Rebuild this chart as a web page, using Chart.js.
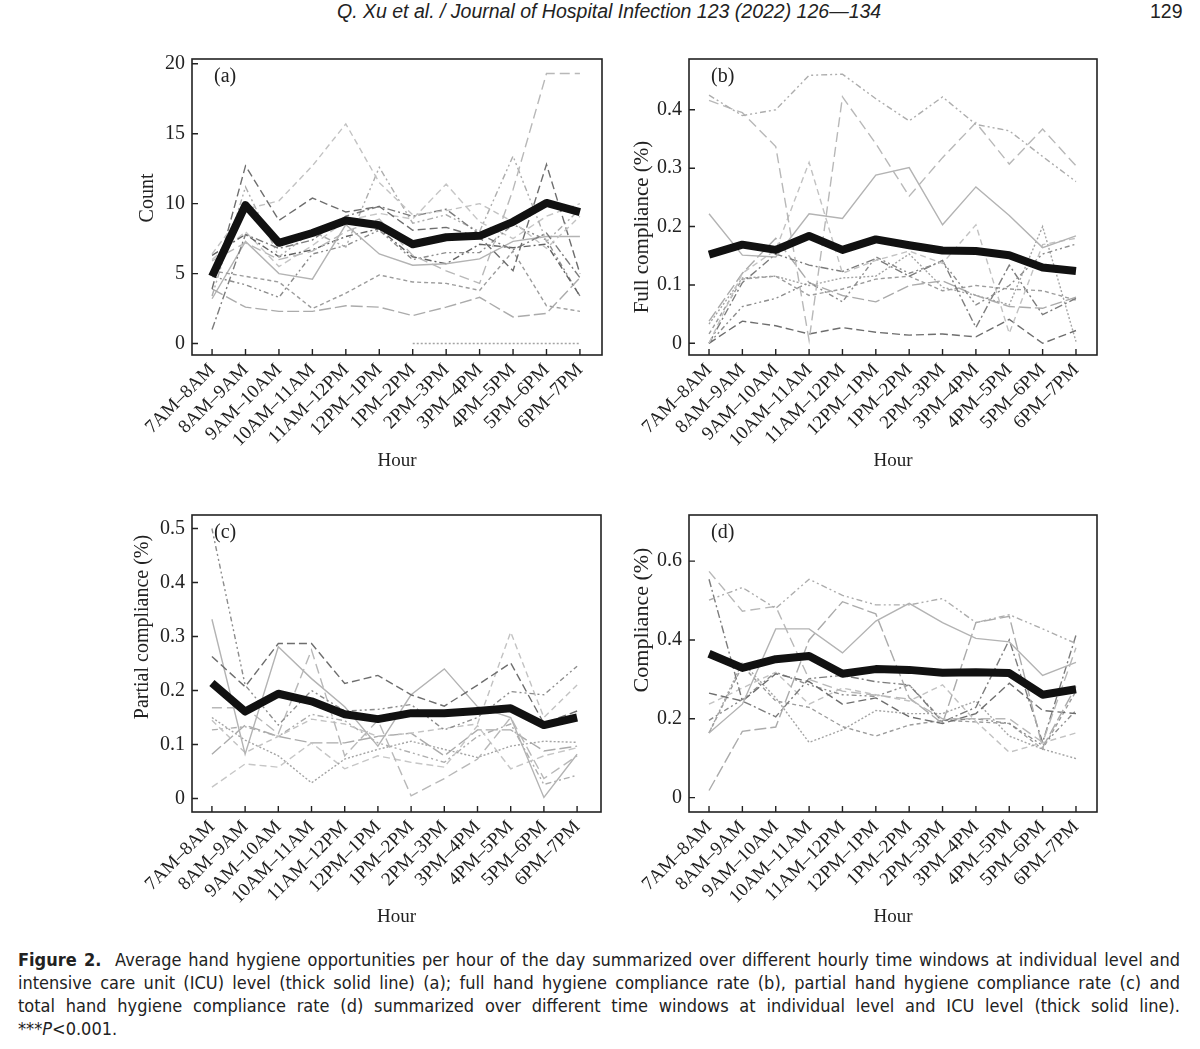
<!DOCTYPE html>
<html>
<head>
<meta charset="utf-8">
<script src="https://cdn.jsdelivr.net/npm/chart.js@4.4.1/dist/chart.umd.min.js"></script>
<style>
  body { margin: 0; background: #fff; width: 1200px; height: 1049px; position: relative; overflow: hidden; }
  canvas { position: absolute; }
  .hdr { position: absolute; top: 0px; font: italic 19.5px "Liberation Sans", sans-serif; color: #222; white-space: nowrap; }
  .cap { position: absolute; left: 18px; width: 1162px; font: 18px "Liberation Sans Narrow", "DejaVu Sans", sans-serif; font-stretch: condensed; color: #222; }
  .cap div { height: 23px; line-height: 23px; white-space: nowrap; }
  .cap .j { text-align: justify; text-align-last: justify; white-space: normal; }
</style>
</head>
<body>
<div class="hdr" style="left:337px;">Q. Xu et al. / Journal of Hospital Infection 123 (2022) 126—134</div>
<div class="hdr" style="left:1150px; font-style:normal;">129</div>

<canvas id="panelA" width="490" height="436" style="left:122px; top:40px;"></canvas>
<canvas id="panelB" width="488" height="436" style="left:619px; top:40px;"></canvas>
<canvas id="panelC" width="489" height="436" style="left:122px; top:496px;"></canvas>
<canvas id="panelD" width="488" height="436" style="left:619px; top:496px;"></canvas>

<div class="cap" style="top:948px;">
  <div class="j"><b>Figure 2.</b>&nbsp; Average hand hygiene opportunities per hour of the day summarized over different hourly time windows at individual level and</div>
  <div class="j">intensive care unit (ICU) level (thick solid line) (a); full hand hygiene compliance rate (b), partial hand hygiene compliance rate (c) and</div>
  <div class="j">total hand hygiene compliance rate (d) summarized over different time windows at individual level and ICU level (thick solid line).</div>
  <div>***<i>P</i>&lt;0.001.</div>
</div>

<script>
// hourly windows
const hours = ['7AM\u20138AM', '8AM\u20139AM', '9AM\u201310AM', '10AM\u201311AM', '11AM\u201312PM', '12PM\u20131PM',
  '1PM\u20132PM', '2PM\u20133PM', '3PM\u20134PM', '4PM\u20135PM', '5PM\u20136PM', '6PM\u20137PM'];

// (a) opportunities count
const countTicks = [0, 5, 10, 15, 20];
const countIcu = [4.8, 9.9, 7.2, 7.9, 8.8, 8.45, 7.1, 7.6, 7.7, 8.7, 10.05, 9.4];
const countIndividual = [
  [5.9, 7.2, 6.0, 6.6, 8.0, 8.9, 6.3, 5.2, 4.3, 11.0, 19.3, 19.3],
  [6.4, 9.6, 10.2, 12.7, 15.7, 11.5, 9.2, 9.5, 10.0, 8.7, 6.8, 9.1],
  [3.9, 12.7, 8.8, 10.4, 9.4, 9.8, 8.1, 8.3, 7.6, 5.2, 12.8, 5.0],
  [1.0, 7.8, 6.8, 7.4, 9.1, 9.8, 9.1, 9.6, 7.8, 6.7, 7.9, 4.7],
  [3.9, 2.6, 2.3, 2.3, 2.7, 2.6, 2.0, 2.6, 3.3, 1.9, 2.15, 4.7],
  [5.2, 4.8, 4.4, 2.5, 3.6, 4.9, 4.4, 4.3, 3.8, 6.6, 2.7, 2.3],
  [null, null, null, null, null, null, 0, 0, 0, 0, 0, 0],
  [3.4, 11.2, 6.2, 8.0, 6.9, 12.6, 8.6, 9.2, 8.0, 13.4, 7.3, 9.6],
  [3.2, 7.3, 5.0, 4.6, 8.5, 6.4, 5.6, 5.7, 6.05, 7.3, 7.65, 7.65],
  [6.3, 7.8, 6.2, 6.7, 7.65, 8.2, 6.2, 5.7, 7.1, 6.85, 7.1, 3.4],
  [4.8, 4.2, 3.3, 6.4, 7.0, 8.1, 6.0, 6.5, 6.5, 8.5, 7.4, 3.4],
  [6.0, 8.0, 5.5, 7.0, 8.8, 9.3, 8.9, 11.4, 8.7, 7.5, 9.1, 10.0]
];

// (b) full compliance
const fullTicks = [0, 0.1, 0.2, 0.3, 0.4];
const fullIcu = [0.152, 0.169, 0.16, 0.184, 0.16, 0.178, 0.168, 0.159, 0.158, 0.151, 0.13, 0.124];
const fullIndividual = [
  [0.425, 0.39, 0.40, 0.459, 0.461, 0.419, 0.381, 0.422, 0.375, 0.364, 0.32, 0.277],
  [0.416, 0.395, 0.337, 0.005, 0.422, 0.342, 0.252, 0.318, 0.378, 0.307, 0.367, 0.304],
  [0.222, 0.151, 0.148, 0.222, 0.214, 0.288, 0.301, 0.203, 0.268, 0.219, 0.164, 0.184],
  [0.0, 0.12, 0.16, 0.31, 0.12, 0.142, 0.158, 0.137, 0.203, 0.017, 0.169, 0.18],
  [0.0, 0.038, 0.03, 0.016, 0.027, 0.019, 0.014, 0.016, 0.011, 0.041, 0.0, 0.022],
  [0.0, 0.063, 0.077, 0.104, 0.071, 0.148, 0.12, 0.14, 0.066, 0.099, 0.153, 0.17],
  [0.0, 0.104, 0.153, 0.134, 0.123, 0.145, 0.115, 0.142, 0.027, 0.134, 0.049, 0.077],
  [0.033, 0.112, 0.115, 0.099, 0.112, 0.115, 0.153, 0.096, 0.082, 0.066, 0.2, 0.003],
  [0.038, 0.12, 0.18, 0.104, 0.082, 0.071, 0.099, 0.107, 0.082, 0.063, 0.06, 0.079],
  [0.016, 0.11, 0.115, 0.082, 0.093, 0.11, 0.115, 0.09, 0.099, 0.093, 0.09, 0.074]
];

// (c) partial compliance
const partialTicks = [0, 0.1, 0.2, 0.3, 0.4, 0.5];
const partialIcu = [0.214, 0.161, 0.194, 0.18, 0.156, 0.147, 0.158, 0.158, 0.162, 0.167, 0.136, 0.15];
const partialIndividual = [
  [0.5, 0.21, 0.136, 0.2, 0.162, 0.165, 0.174, 0.127, 0.15, 0.198, 0.192, 0.245],
  [0.263, 0.207, 0.287, 0.287, 0.213, 0.228, 0.192, 0.171, 0.21, 0.251, 0.139, 0.162],
  [0.332, 0.082, 0.281, 0.222, 0.17, 0.097, 0.192, 0.24, 0.17, 0.15, 0.002, 0.082],
  [0.168, 0.168, 0.12, 0.275, 0.079, 0.145, 0.005, 0.037, 0.073, 0.15, 0.037, 0.079],
  [0.145, 0.085, 0.115, 0.147, 0.138, 0.115, 0.121, 0.13, 0.138, 0.308, 0.15, 0.21],
  [0.15, 0.108, 0.079, 0.029, 0.073, 0.091, 0.106, 0.091, 0.076, 0.097, 0.106, 0.104],
  [0.021, 0.064, 0.058, 0.103, 0.055, 0.079, 0.067, 0.058, 0.135, 0.055, 0.079, 0.094],
  [0.127, 0.133, 0.115, 0.156, 0.144, 0.103, 0.085, 0.067, 0.115, 0.138, 0.026, 0.043],
  [0.082, 0.136, 0.115, 0.103, 0.103, 0.115, 0.121, 0.079, 0.127, 0.127, 0.088, 0.097]
];

// (d) total compliance
const totalTicks = [0, 0.2, 0.4, 0.6];
const totalIcu = [0.365, 0.329, 0.351, 0.359, 0.314, 0.326, 0.324, 0.317, 0.318, 0.316, 0.261, 0.275];
const totalIndividual = [
  [0.501, 0.533, 0.48, 0.554, 0.513, 0.489, 0.489, 0.505, 0.444, 0.464, 0.428, 0.391],
  [0.574, 0.473, 0.485, 0.30, 0.27, 0.26, 0.25, 0.20, 0.20, 0.20, 0.14, 0.38],
  [0.164, 0.237, 0.428, 0.428, 0.367, 0.448, 0.493, 0.444, 0.404, 0.395, 0.31, 0.343],
  [0.018, 0.168, 0.179, 0.4, 0.497, 0.466, 0.253, 0.188, 0.444, 0.46, 0.127, 0.282],
  [0.265, 0.245, 0.314, 0.294, 0.237, 0.253, 0.205, 0.188, 0.213, 0.29, 0.221, 0.213],
  [0.554, 0.245, 0.205, 0.302, 0.31, 0.294, 0.286, 0.192, 0.229, 0.4, 0.14, 0.412],
  [0.164, 0.343, 0.253, 0.14, 0.172, 0.221, 0.213, 0.213, 0.245, 0.156, 0.123, 0.099],
  [0.237, 0.278, 0.318, 0.237, 0.278, 0.261, 0.245, 0.286, 0.193, 0.115, 0.139, 0.164],
  [0.196, 0.249, 0.318, 0.286, 0.261, 0.257, 0.286, 0.196, 0.2, 0.188, 0.132, 0.221],
  [0.164, 0.334, 0.245, 0.229, 0.18, 0.156, 0.184, 0.196, 0.192, 0.188, 0.123, 0.27]
];

// grey shades + dash patterns for the individual lines
const thinColors = ['#b8b8b8', '#c2c2c2', '#6e6e6e', '#7c7c7c', '#ababab', '#9c9c9c',
  '#a4a4a4', '#adadad', '#b3b3b3', '#626262', '#8c8c8c', '#c6c6c6'];
const thinDashes = [[10, 5], [6, 4], [8, 4], [8, 3, 2, 3], [12, 4], [4, 3],
  [2, 2], [6, 3, 2, 3, 2, 3], [], [7, 3, 2, 3], [5, 3, 2, 3, 2, 3], [7, 4]];
// which style each individual line of a panel uses
const styleA = [0, 1, 2, 3, 4, 5, 6, 7, 8, 9, 10, 11];
const styleB = [7, 0, 8, 1, 2, 10, 3, 6, 4, 5];
const styleC = [10, 2, 8, 0, 1, 6, 11, 7, 4];
const styleD = [7, 0, 8, 4, 2, 3, 6, 1, 10, 5];

const SERIF = '"Liberation Serif", "Times New Roman", serif';

// box frame, inward tick marks, panel tag and rotated y title
const framePlugin = {
  id: 'frame',
  afterDraw(chart) {
    const { ctx, chartArea: a, scales } = chart;
    const o = chart.options.plugins.frame;
    ctx.save();
    ctx.strokeStyle = '#222';
    ctx.lineWidth = 1.6;
    ctx.strokeRect(a.left, a.top, a.right - a.left, a.bottom - a.top);
    ctx.lineWidth = 1.4;
    ctx.beginPath();
    scales.x.ticks.forEach(t => {
      const px = scales.x.getPixelForValue(t.value);
      ctx.moveTo(px, a.bottom);
      ctx.lineTo(px, a.bottom - 6);
    });
    scales.y.ticks.forEach(t => {
      const py = scales.y.getPixelForValue(t.value);
      ctx.moveTo(a.left, py);
      ctx.lineTo(a.left + 6, py);
    });
    ctx.stroke();
    ctx.fillStyle = '#222';
    ctx.font = '20px ' + SERIF;
    ctx.textBaseline = 'middle';
    ctx.fillText(o.tag, a.left + 22, a.top + 18);
    ctx.translate(o.titleX, o.titleY);
    ctx.rotate(-Math.PI / 2);
    ctx.textAlign = 'center';
    ctx.font = o.titleSize + 'px ' + SERIF;
    ctx.fillText(o.title, 0, 0);
    ctx.restore();
  }
};

function makePanel(id, icu, individual, styles, yTicks, yMin, yMax, xMin, xMax, frameOpts) {
  const toPts = arr => arr.map((v, i) => ({ x: i, y: v }));
  const datasets = [{
    data: toPts(icu),
    borderColor: '#111',
    borderWidth: 8,
    pointRadius: 0,
    borderJoinStyle: 'round'
  }];
  individual.forEach((arr, i) => {
    const s = styles[i];
    datasets.push({
      data: toPts(arr),
      borderColor: thinColors[s],
      borderDash: thinDashes[s],
      borderWidth: 1.4,
      pointRadius: 0,
      spanGaps: false
    });
  });

  new Chart(document.getElementById(id), {
    type: 'line',
    data: { datasets },
    plugins: [framePlugin],
    options: {
      responsive: false,
      animation: false,
      layout: { padding: { top: 7, right: 10, bottom: 0, left: 0 } },
      plugins: { legend: { display: false }, tooltip: { enabled: false }, frame: frameOpts },
      scales: {
        x: {
          type: 'linear',
          min: xMin,
          max: xMax,
          afterBuildTicks: s => { s.ticks = hours.map((h, i) => ({ value: i })); },
          afterFit: s => { s.height = frameOpts.xHeight; },
          grid: { display: false, drawTicks: false },
          border: { display: false },
          ticks: {
            autoSkip: false,
            minRotation: 45,
            maxRotation: 45,
            padding: 4,
            color: '#222',
            font: { family: SERIF, size: 19 },
            callback: v => hours[v]
          },
          title: { display: true, text: 'Hour', color: '#222', font: { family: SERIF, size: 19 } }
        },
        y: {
          min: yMin,
          max: yMax,
          afterBuildTicks: s => { s.ticks = yTicks.map(v => ({ value: v })); },
          afterFit: s => { s.width = 70; },
          grid: { display: false, drawTicks: false },
          border: { display: false },
          ticks: { padding: 7, color: '#222', font: { family: SERIF, size: 20 } }
        }
      }
    }
  });
}

makePanel('panelA', countIcu, countIndividual, styleA, countTicks, -0.82, 20.34, -0.6, 11.66,
  { tag: '(a)', title: 'Count', titleSize: 20, titleX: 26, titleY: 158, xHeight: 121 });
makePanel('panelB', fullIcu, fullIndividual, styleB, fullTicks, -0.02, 0.487, -0.6, 11.63,
  { tag: '(b)', title: 'Full compliance (%)', titleSize: 21, titleX: 23, titleY: 187, xHeight: 121 });
makePanel('panelC', partialIcu, partialIndividual, styleC, partialTicks, -0.025, 0.525, -0.6, 11.72,
  { tag: '(c)', title: 'Partial compliance (%)', titleSize: 20, titleX: 21, titleY: 131, xHeight: 120 });
makePanel('panelD', totalIcu, totalIndividual, styleD, totalTicks, -0.0366, 0.717, -0.6, 11.63,
  { tag: '(d)', title: 'Compliance (%)', titleSize: 22, titleX: 23, titleY: 124, xHeight: 120 });
</script>
</body>
</html>
